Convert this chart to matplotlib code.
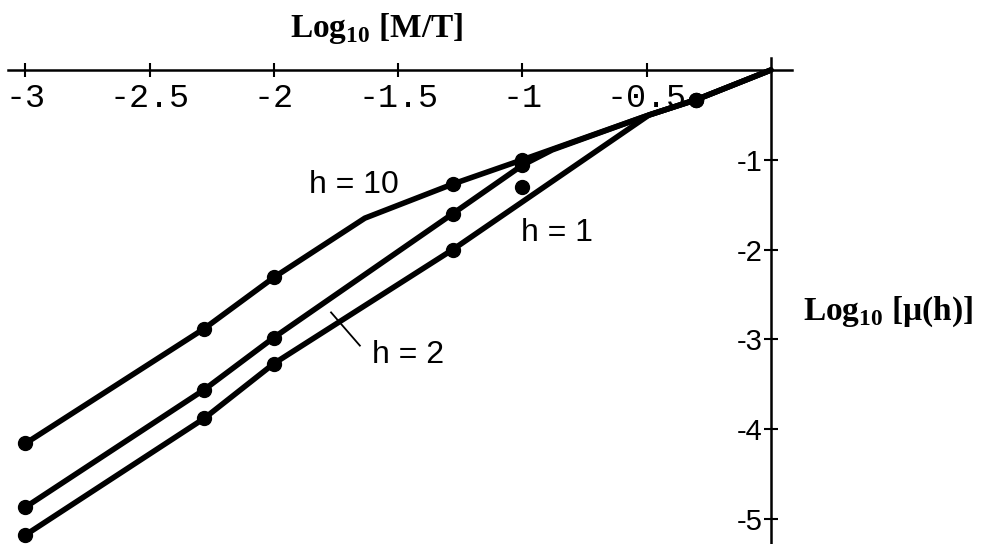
import numpy as np
import matplotlib
matplotlib.use("Agg")
import matplotlib.pyplot as plt

plt.rcParams['mathtext.fontset'] = 'custom'
plt.rcParams['mathtext.rm'] = 'Liberation Serif'
plt.rcParams['mathtext.bf'] = 'Liberation Serif:bold'

# dots (log10 M/T, log10 mu(h))
dot_x = [-3, -2.28, -2, -1.28, -1, -0.3]
h10_dots = [-4.16, -2.88, -2.31, -1.27, -1.00, -0.33]
h2_dots = [-4.87, -3.56, -2.98, -1.60, -1.06, -0.33]
h1_dots = [-5.18, -3.88, -3.27, -2.00, -1.30, -0.33]

# model curves
h10_x = [-3, -2.28, -2, -1.634, -1.28, -1.0, -0.5, -0.3, 0]
h10_y = [-4.16, -2.88, -2.31, -1.65, -1.27, -1.00, -0.51, -0.33, 0]
h2_x = [-3, -2.28, -2, -1.28, -1.0, -0.88, -0.5, -0.3, 0]
h2_y = [-4.87, -3.56, -2.98, -1.60, -1.06, -0.89, -0.51, -0.33, 0]
h1_x = [-3, -2.28, -2, -1.28, -0.49, -0.3, 0]
h1_y = [-5.18, -3.88, -3.27, -2.00, -0.50, -0.33, 0]

xticks = [-3, -2.5, -2, -1.5, -1, -0.5]
xtick_labels = ["-3", "-2.5", "-2", "-1.5", "-1", "-0.5"]
yticks = [-1, -2, -3, -4, -5]
ytick_labels = ["-1", "-2", "-3", "-4", "-5"]

W, H = 981, 544
fig = plt.figure(figsize=(W / 100, H / 100), dpi=100)
ax = fig.add_axes([8 / W, 0, (792 - 8) / W, 1 - 58 / H])
ax.set_xlim(-3.07, 0.085)
ax.set_ylim(-5.28, 0.134)

for xs, ys in [(h10_x, h10_y), (h2_x, h2_y), (h1_x, h1_y)]:
    ax.plot(xs, ys, color='black', lw=4.0, solid_capstyle='round',
            solid_joinstyle='round', zorder=3)
for ys in [h10_dots, h2_dots, h1_dots]:
    ax.plot(dot_x, ys, 'o', color='black', ms=10, zorder=4)

# spines through the origin
ax.spines['left'].set_position(('data', 0))
ax.spines['bottom'].set_position(('data', 0))
ax.spines['top'].set_visible(False)
ax.spines['right'].set_visible(False)
for s in ['left', 'bottom']:
    ax.spines[s].set_linewidth(1.8)

ax.set_xticks(xticks)
ax.set_xticklabels(xtick_labels, family='Liberation Mono', fontsize=24)
ax.set_yticks(yticks)
ax.set_yticklabels(ytick_labels, family='Liberation Sans', fontsize=21)
ax.tick_params(axis='x', direction='inout', length=10, width=1.5, pad=4)
ax.tick_params(axis='y', direction='inout', length=10, width=1.5, pad=1)

# curve labels
ax.text(-1.68, -1.28, "h = 10", family='Liberation Sans', fontsize=23,
        ha='center', va='center')
ax.text(-0.86, -1.81, "h = 1", family='Liberation Sans', fontsize=23,
        ha='center', va='center')
ax.text(-1.46, -3.18, "h = 2", family='Liberation Sans', fontsize=23,
        ha='center', va='center')
ax.plot([-1.77, -1.654], [-2.70, -3.07], color='black', lw=1.3)

# axis titles
fig.text(377 / W, 1 - 28 / H, r"Log$_{\mathbf{10}}$ [M/T]", family='Liberation Serif',
         weight='bold', fontsize=24, ha='center', va='center')
fig.text(888 / W, 1 - 312 / H, r"Log$_{\mathbf{10}}$ [μ(h)]", family='Liberation Serif',
         weight='bold', fontsize=24, ha='center', va='center')

fig.savefig("out.png", dpi=100)
